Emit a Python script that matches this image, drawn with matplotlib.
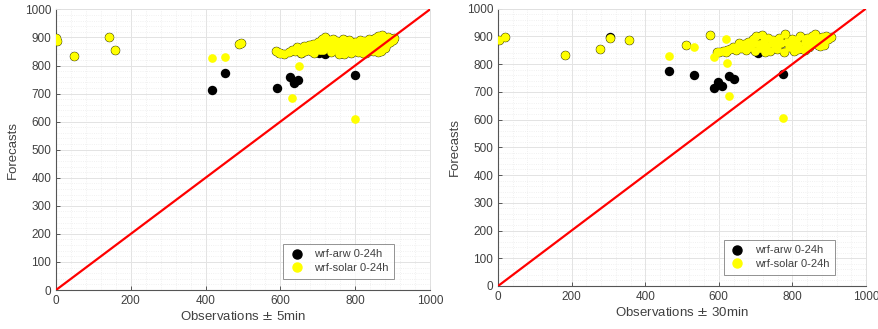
import matplotlib.pyplot as plt
import numpy as np
from matplotlib.lines import Line2D
from matplotlib.ticker import MultipleLocator

plt.rcParams["font.family"] = ["Liberation Sans", "DejaVu Sans"]

# ---- left panel (observations +- 5min) ----
# dense band shared by both models (yellow drawn over black)
L_CLUSTER_X = [600, 610, 622, 630, 640, 648, 655, 662, 670, 676, 682, 688, 694, 700, 705, 710,
               714, 718, 722, 726, 730, 735, 740, 744, 748, 752, 756, 760, 764, 768, 772, 776,
               780, 784, 788, 792, 796, 800, 804, 808, 812, 816, 820, 824, 828, 832, 836, 840,
               844, 848, 852, 856, 860, 864, 868, 872, 876, 880, 884, 888, 892, 896, 900, 905,
               690, 705, 750, 790, 830, 870, 880, 860, 715, 735, 770, 820, 645, 665]
L_CLUSTER_Y = [845, 842, 848, 855, 850, 860, 845, 868, 858, 872, 850, 878, 862, 885, 870, 895,
               855, 902, 880, 865, 890, 848, 895, 872, 858, 888, 842, 880, 866, 893, 850, 878,
               862, 890, 845, 872, 858, 885, 868, 848, 892, 875, 858, 888, 845, 870, 895, 860,
               880, 850, 898, 872, 905, 862, 885, 908, 870, 895, 878, 900, 885, 895, 890, 897,
               845, 855, 870, 880, 880, 852, 862, 848, 880, 875, 842, 846, 865, 850]
L_ARW_X = [0, 2, 48, 141, 159, 489, 495, 589, 595,
           418, 452, 591, 627, 636, 647, 637, 799, 704, 718, 654]
L_ARW_Y = [897, 887, 834, 902, 855, 876, 880, 853, 846,
           713, 774, 720, 760, 742, 748, 736, 766, 843, 841, 846]
L_SOLAR_X = [0, 2, 48, 141, 159, 489, 495, 589, 595,
             418, 452, 650, 631, 799]
L_SOLAR_Y = [897, 887, 834, 902, 855, 876, 880, 853, 846,
             825, 829, 800, 685, 608]

# ---- right panel (observations +- 30min) ----
R_CLUSTER_X = [600, 612, 620, 630, 638, 646, 654, 660, 668, 674, 680, 686, 692, 698, 702, 708,
               712, 718, 722, 728, 734, 740, 746, 752, 758, 764, 770, 776, 780, 786, 792, 798,
               804, 810, 816, 822, 828, 834, 840, 846, 852, 858, 862, 868, 874, 880, 886, 892,
               898, 905, 695, 725, 760, 800, 835, 870, 850, 815, 745, 675, 655, 885]
R_CLUSTER_Y = [845, 848, 842, 855, 862, 850, 868, 858, 872, 852, 880, 862, 890, 848, 900, 872,
               858, 905, 884, 866, 895, 848, 888, 870, 855, 895, 875, 842, 910, 880, 860, 892,
               848, 885, 868, 900, 855, 880, 895, 862, 902, 875, 910, 888, 865, 898, 880, 902,
               892, 897, 875, 845, 885, 870, 850, 870, 885, 855, 875, 865, 875, 870]
R_ARW_X = [3, 19, 182, 277, 303, 355, 510, 576, 594, 621,
           465, 532, 587, 599, 608, 628, 641, 775, 707, 303]
R_ARW_Y = [886, 898, 834, 855, 894, 886, 870, 903, 844, 852,
           774, 759, 713, 737, 720, 756, 747, 765, 840, 899]
R_SOLAR_X = [3, 19, 182, 277, 303, 355, 510, 576, 594, 621,
             465, 532, 619, 623, 587, 628, 775]
R_SOLAR_Y = [886, 898, 834, 855, 894, 886, 870, 903, 844, 852,
             830, 861, 892, 802, 826, 684, 607]

PANELS = [
    {"rect": [0.0637, 0.1185, 0.4255, 0.853], "xlabel": r"Observations $\pm$ 5min",
     "cx": L_CLUSTER_X, "cy": L_CLUSTER_Y, "ax_": L_ARW_X, "ay": L_ARW_Y,
     "sx": L_SOLAR_X, "sy": L_SOLAR_Y, "leg_x": 0.918},
    {"rect": [0.5666, 0.1307, 0.4186, 0.8433], "xlabel": r"Observations $\pm$ 30min",
     "cx": R_CLUSTER_X, "cy": R_CLUSTER_Y, "ax_": R_ARW_X, "ay": R_ARW_Y,
     "sx": R_SOLAR_X, "sy": R_SOLAR_Y, "leg_x": 0.93},
]

TXT = "#404040"
YELLOW = "#ffff00"

fig = plt.figure(figsize=(8.79, 3.29), dpi=100)

for p in PANELS:
    ax = fig.add_axes(p["rect"])
    arw_x = np.concatenate([p["cx"], p["ax_"]])
    arw_y = np.concatenate([p["cy"], p["ay"]])
    sol_x = np.concatenate([p["cx"], p["sx"]])
    sol_y = np.concatenate([p["cy"], p["sy"]])

    ax.scatter(arw_x, arw_y, s=46, color="black", linewidths=0, zorder=3)
    ax.scatter(sol_x, sol_y, s=39, color=YELLOW, linewidths=0, zorder=4)
    ax.plot([0, 1000], [0, 1000], color="#ff0000", linewidth=1.6, zorder=5)

    ax.set_xlim(0, 1000)
    ax.set_ylim(0, 1000)
    ax.xaxis.set_major_locator(MultipleLocator(200))
    ax.xaxis.set_minor_locator(MultipleLocator(40))
    ax.yaxis.set_major_locator(MultipleLocator(100))
    ax.yaxis.set_minor_locator(MultipleLocator(20))
    ax.grid(True, which="major", color="#e3e3e3", linewidth=0.7, zorder=0)
    ax.grid(True, which="minor", color="#ececec", linewidth=0.6, linestyle=":", zorder=0)
    ax.set_axisbelow(True)
    ax.tick_params(which="both", direction="in", colors=TXT, labelsize=8.5,
                   top=False, right=False)
    ax.tick_params(which="major", length=3, width=0.6)
    ax.tick_params(which="minor", length=0)
    for side in ["left", "bottom"]:
        ax.spines[side].set_color("#555555")
        ax.spines[side].set_linewidth(0.8)
    for side in ["top", "right"]:
        ax.spines[side].set_color("#e0e0e0")
        ax.spines[side].set_linewidth(0.7)

    ax.set_xlabel(p["xlabel"], fontsize=9.5, color=TXT, labelpad=2)
    ax.set_ylabel("Forecasts", fontsize=9.5, color=TXT, labelpad=4)

    handles = [
        Line2D([], [], marker="o", linestyle="none", color="black", markersize=6.5),
        Line2D([], [], marker="o", linestyle="none", color=YELLOW, markersize=6.5),
    ]
    leg = ax.legend(handles, ["wrf-arw 0-24h", "wrf-solar 0-24h"], loc="lower right",
                    bbox_to_anchor=(p["leg_x"], 0.02), fontsize=8, frameon=True,
                    fancybox=False, edgecolor="#777777", handletextpad=0.8,
                    borderpad=0.5, labelspacing=0.35, handlelength=1.5)
    leg.get_frame().set_linewidth(0.7)
    for t in leg.get_texts():
        t.set_color(TXT)

fig.savefig("out.png", dpi=100)
